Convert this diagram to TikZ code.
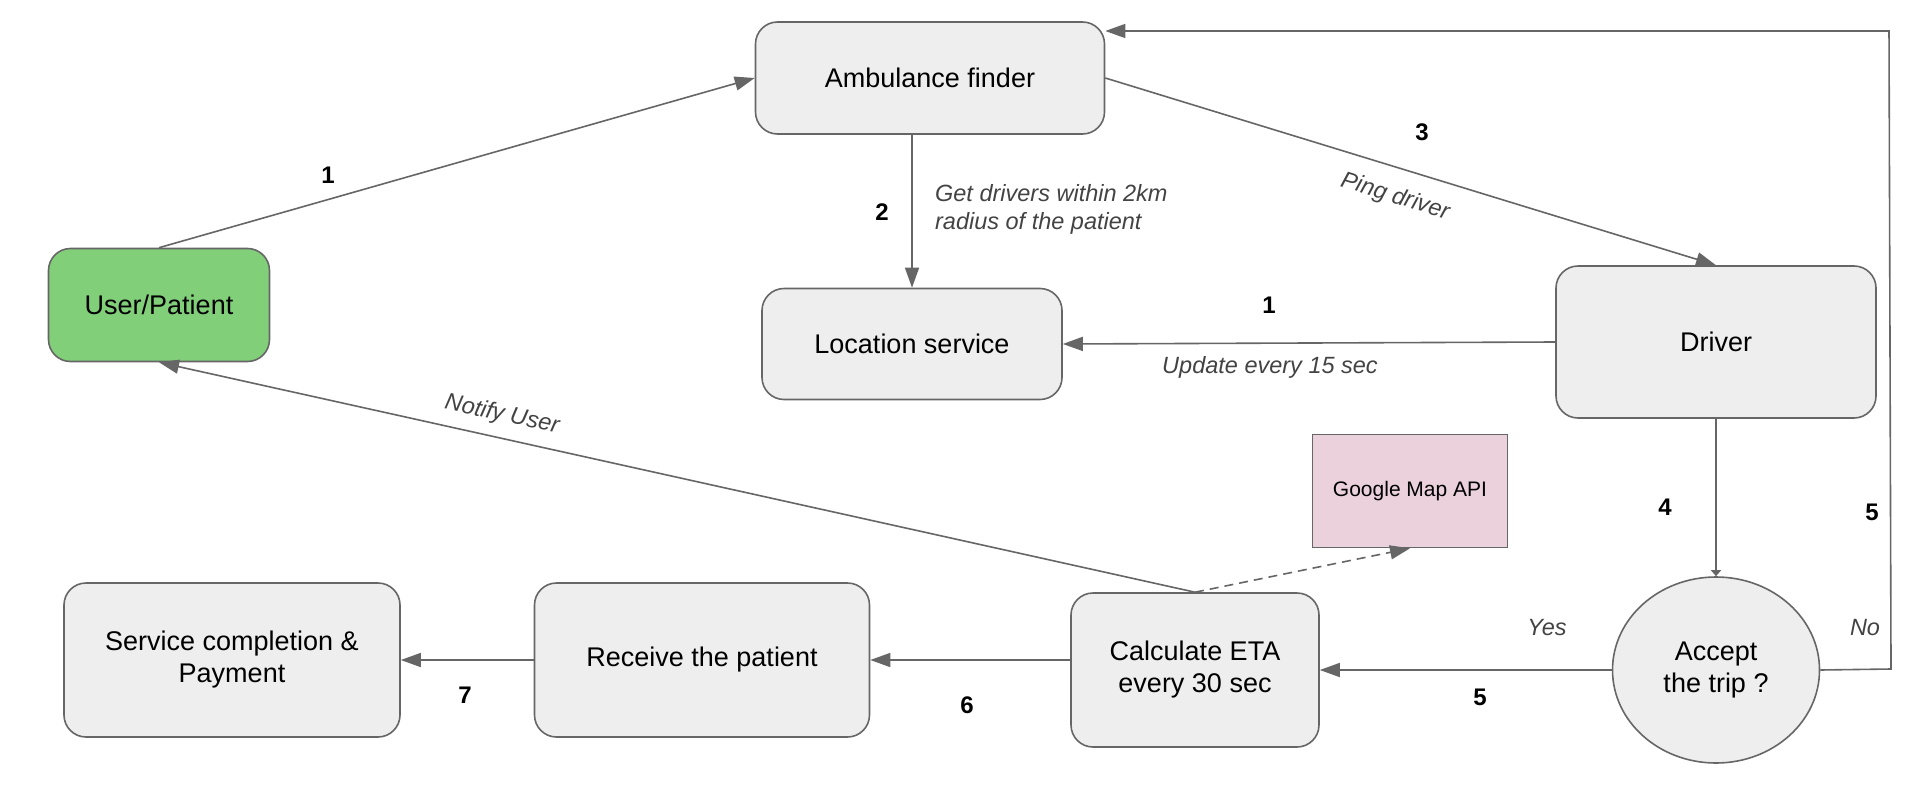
\documentclass[tikz,border=0pt]{standalone}
\usepackage{fontspec}
\setmainfont{Liberation Sans}
\usetikzlibrary{arrows.meta,positioning,shapes.geometric}
\definecolor{boxgray}{HTML}{EEEEEE}
\definecolor{linegray}{HTML}{666666}
\definecolor{usergreen}{HTML}{82CF7A}
\definecolor{mappink}{HTML}{EAD1DC}
\definecolor{labelgray}{HTML}{434343}
\tikzset{every picture/.style={line width=1.6pt}}
\tikzstyle{box}=[rectangle,rounded corners=22pt,draw=linegray,fill=boxgray,inner sep=0pt,align=center,font=\fontsize{27}{32}\selectfont]
\tikzstyle{num}=[font=\fontsize{24}{28}\selectfont\bfseries]
\tikzstyle{lbl}=[font=\fontsize{23.5}{28}\selectfont\itshape,text=labelgray]

\begin{document}
\begin{tikzpicture}[x=1pt,y=-1pt]
\useasboundingbox (0,0) rectangle (1913,784);
\node[box,fill=usergreen,minimum width=221pt,minimum height=113pt] (P) at (159,305) {User/Patient};
\node[box,minimum width=349pt,minimum height=112pt] (F) at (930,78) {Ambulance finder};
\node[box,minimum width=300pt,minimum height=111pt] (L) at (912,344) {Location service};
\node[box,minimum width=320pt,minimum height=152pt] (D) at (1716,342) {Driver};
\node[box,rounded corners=0pt,fill=mappink,minimum width=195pt,minimum height=113pt,font=\fontsize{21}{25}\selectfont] (G) at (1410,491) {Google Map API};
\node[box,minimum width=248pt,minimum height=154pt] (C) at (1195,670) {Calculate ETA\\every 30 sec};
\node[box,ellipse,minimum width=207pt,minimum height=186pt] (A) at (1716,670) {Accept\\the trip ?};
\node[box,minimum width=335pt,minimum height=154pt] (V) at (702,660) {Receive the patient};
\node[box,minimum width=336pt,minimum height=154pt] (S) at (232,660) {Service completion \&\\Payment};
\coordinate (T1) at (1891,669);
\coordinate (T2) at (1889,31);
\path[->,color=linegray,>={Triangle[length=20pt,width=14pt]}]
(P.north) edge (F.west)
(L.north |- F.south) edge (L.north)
(F.east) edge (D.north)
(D.west) edge (L.east)
(D.south) edge [>={Triangle[length=6pt,width=10pt]}] (A.north)
(A.west) edge (C.east)
(C.west |- V.east) edge (V.east)
(V.west) edge (S.east)
(C.north) edge (P.south)
(C.north) edge [dash pattern=on 9pt off 6pt] (G.south);
\draw[->,draw=linegray,>={Triangle[length=20pt,width=14pt]}] (A.east) -- (T1) -- (T2) -- (F.east |- T2);
\node[num] (n1) at (328,175) {1};
\node[num] (n2) at (882,212) {2};
\node[lbl,anchor=west,align=left] (t2) at (931,209) {Get drivers within 2km\\radius of the patient};
\node[num] (n3) at (1422,132) {3};
\node[lbl,rotate=-17.2] (t3) at (1395,197) {Ping driver};
\node[num] (n1b) at (1269,305) {1};
\node[lbl] (t1b) at (1270,367) {Update every 15 sec};
\node[lbl,rotate=-12.2] (tu) at (502,415) {Notify User};
\node[num] (n4) at (1665,507) {4};
\node[num] (n5a) at (1872,512) {5};
\node[lbl] (ty) at (1547,628) {Yes};
\node[lbl] (tn) at (1865,628) {No};
\node[num] (n5b) at (1480,697) {5};
\node[num] (n6) at (967,705) {6};
\node[num] (n7) at (465,695) {7};
\end{tikzpicture}
\end{document}
